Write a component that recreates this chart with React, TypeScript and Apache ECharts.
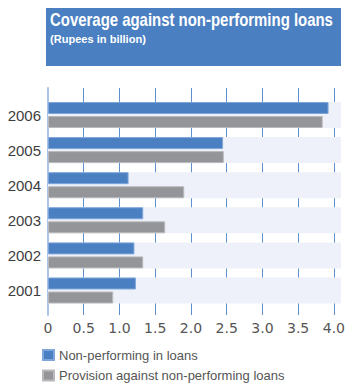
import React, { useEffect, useRef } from "react";
import * as echarts from "echarts";

const years = ["2001", "2002", "2003", "2004", "2005", "2006"];
const nonPerforming = [1.2, 1.18, 1.3, 1.1, 2.39, 3.83];
const provision = [0.89, 1.3, 1.6, 1.86, 2.4, 3.75];
const xTicks = { min: 0, max: 4, interval: 0.5 };
const seriesNames = ["Non-performing in loans", "Provision against non-performing loans"];
const titleText = "Coverage against non-performing loans";
const subtitleText = "(Rupees in billion)";

function measure(text: string, font: string): number {
  const c = document.createElement("canvas").getContext("2d");
  if (!c) return 1;
  c.font = font;
  return c.measureText(text).width || 1;
}

export default function App() {
  const ref = useRef<HTMLDivElement>(null);
  useEffect(() => {
    if (!ref.current) return;
    const chart = echarts.init(ref.current, null, { renderer: "svg" });
    const band = years.map(() => xTicks.max);
    const titleFont = "bold 18px 'Liberation Sans', Arial, sans-serif";
    const subFont = "bold 10.5px 'Liberation Sans', Arial, sans-serif";
    const titleScale = 283 / measure(titleText, titleFont);
    const subScale = 96 / measure(subtitleText, subFont);
    const legendText = { fontSize: 13, color: "#555", fontFamily: "'Liberation Sans', Arial, sans-serif" };
    chart.setOption({
      animation: false,
      graphic: [
        { type: "rect", shape: { x: 46, y: 8, width: 295, height: 58 }, style: { fill: "#4a7fc2" }, z: 10 },
        {
          type: "text", x: 50, y: 11, scaleX: titleScale, z: 11,
          style: { text: titleText, fill: "#fff", font: titleFont, verticalAlign: "top" },
        },
        {
          type: "text", x: 50, y: 33.5, scaleX: subScale, z: 11,
          style: { text: subtitleText, fill: "#fff", font: subFont, verticalAlign: "top" },
        },
      ],
      legend: [
        {
          left: 42, top: 348.5, padding: 0, itemWidth: 11, itemHeight: 10, icon: "rect",
          data: [seriesNames[0]], textStyle: legendText,
        },
        {
          left: 42, top: 369, padding: 0, itemWidth: 11, itemHeight: 10, icon: "rect",
          data: [seriesNames[1]], textStyle: legendText,
        },
      ],
      grid: [
        { left: 48, right: 7, top: 88, bottom: 69 },
        { left: 48, right: 7, top: 97.45, bottom: 384 - 308.05 },
      ],
      xAxis: [
        {
          type: "value", gridIndex: 0, min: xTicks.min, max: xTicks.max, interval: xTicks.interval,
          axisLine: { show: false }, axisTick: { show: false },
          splitLine: { show: true, lineStyle: { color: "#5e90d0", width: 1 } },
          axisLabel: {
            margin: 6, fontSize: 14, color: "#555", fontFamily: "'DejaVu Sans', sans-serif",
            formatter: (v: number) => (v === 0 ? "0" : v.toFixed(1)),
          },
        },
        {
          type: "value", gridIndex: 1, min: xTicks.min, max: xTicks.max, interval: xTicks.interval,
          show: false,
        },
      ],
      yAxis: [
        {
          type: "category", gridIndex: 0, data: years, show: true,
          axisLine: { show: true, lineStyle: { color: "#a9c4e8", width: 2 } },
          axisTick: { show: false }, axisLabel: { show: false },
        },
        {
          type: "category", gridIndex: 1, data: years,
          axisLine: { show: false }, axisTick: { show: false },
          axisLabel: { margin: 7, fontSize: 15, color: "#3d3d3d", fontFamily: "'Liberation Sans', Arial, sans-serif" },
        },
        {
          type: "category", gridIndex: 1, data: years, show: false,
        },
      ],
      series: [
        {
          type: "bar", xAxisIndex: 1, yAxisIndex: 2, data: band, barWidth: 26,
          itemStyle: { color: "#eef1f9" }, silent: true, z: 1,
        },
        {
          name: seriesNames[0], type: "bar", xAxisIndex: 1, yAxisIndex: 1, data: nonPerforming,
          barWidth: 12, barGap: "17%",
          itemStyle: { color: "#4a7fc2", borderColor: "#7ea6da", borderWidth: 1 }, z: 3,
        },
        {
          name: seriesNames[1], type: "bar", xAxisIndex: 1, yAxisIndex: 1, data: provision,
          barWidth: 12, barGap: "17%",
          itemStyle: { color: "#949598", borderColor: "#b9b9bb", borderWidth: 1 }, z: 3,
        },
      ],
    });
    return () => chart.dispose();
  }, []);
  return <div ref={ref} style={{ width: 348, height: 384, position: "absolute", left: 0, top: 0 }} />;
}
